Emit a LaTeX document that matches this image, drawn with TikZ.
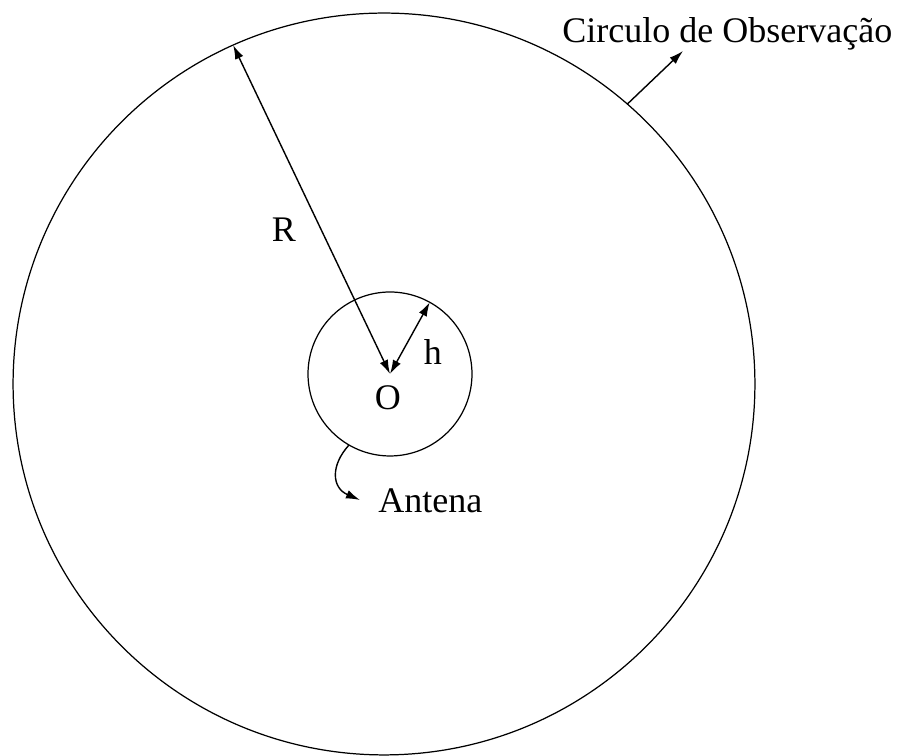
\documentclass[tikz,border=0pt]{standalone}
\usepackage{fontspec}
\setmainfont{Liberation Serif}
\usetikzlibrary{arrows.meta}

\begin{document}
\begin{tikzpicture}[
    x=0.02cm, y=0.02cm,
    font=\fontsize{20.5pt}{24pt}\selectfont,
    >={Latex[length=8pt, width=5pt]},
    ring/.style={circle, draw, line width=0.7pt, inner sep=0pt, outer sep=0pt},
    conn/.style={line width=0.8pt},
    lbl/.style={inner sep=0pt},
]

\useasboundingbox (0,0) rectangle (907,756);

% circles
\node[ring, minimum size=14.84cm] (obs) at (384,372) {};
\node[ring, minimum size=3.28cm] (ant) at (390,382) {};
\coordinate (ctr) at (ant.center);

% radii
\draw[conn, <->] (ctr) -- (obs.114.6);
\draw[conn, <->] (ctr) -- (ant.61);

% labels
\node[lbl] (rlbl) at (284,526) {R};
\node[lbl] (hlbl) at (433,404) {h};
\node[lbl] (olbl) at (388,358) {O};
\node[lbl, anchor=base west] (antlbl) at (378,243) {Antena};
\node[lbl, anchor=base west] (obslbl) at (562,713) {Circulo de Observação};

% pointers
\coordinate (anttip) at (360,256);
\draw[conn, ->] (ant.240.6) .. controls (330,290) and (332,268) .. (anttip);
\coordinate (obstip) at (683,705);
\draw[conn, ->] (obs.49) -- (obstip);

\end{tikzpicture}
\end{document}
